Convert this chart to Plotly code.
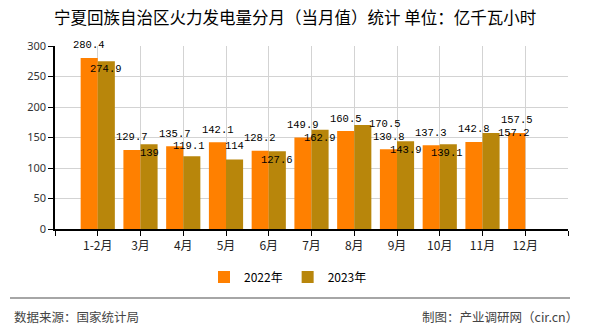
import plotly.graph_objects as go

months = ["1-2月", "3月", "4月", "5月", "6月", "7月", "8月", "9月", "10月", "11月", "12月"]
v2022 = [280.4, 129.7, 135.7, 142.1, 128.2, 149.9, 160.5, 130.8, 137.3, 142.8, 157.5]
v2023 = [274.9, 139, 119.1, 114, 127.6, 162.9, 170.5, 143.9, 139.1, 157.2]
y_ticks = [0, 50, 100, 150, 200, 250, 300]

# label offsets (pixels) for 2023 labels, as drawn in the reference
lab23_dx = [0, 0, -3, 0, 0, 0, 22, 0, -1, 23]
lab23_dy = [-8, -9, 10, 13, -9, -8, 1, -9, -9, 0]

C22 = "#FF8000"
C23 = "#B8860B"

L, T, W, H = 55, 46, 513, 183  # plot area in px


def px_x(x):
    return (x - L) / W


def px_y(y):
    return 1 - (y - T) / H


xs22 = list(range(len(v2022)))
xs23 = list(range(len(v2023)))

fig = go.Figure()
fig.add_trace(go.Bar(x=xs22, y=v2022, name="2022年", marker_color=C22,
                     marker_line_width=0))
fig.add_trace(go.Bar(x=xs23, y=v2023, name="2023年", marker_color=C23,
                     marker_line_width=0))

lab_font = dict(family="Liberation Mono, DejaVu Sans Mono, monospace", size=10.5, color="#000")
BW = 8.5  # half-group offset in px
for i, v in enumerate(v2022):
    fig.add_annotation(x=i, y=v, text=f"{v:g}", showarrow=False, xref="x", yref="y",
                       xshift=-BW, yshift=12.5, font=lab_font, xanchor="center", yanchor="middle")
for i, v in enumerate(v2023):
    fig.add_annotation(x=i, y=v, text=f"{v:g}", showarrow=False, xref="x", yref="y",
                       xshift=BW + lab23_dx[i], yshift=lab23_dy[i], font=lab_font,
                       xanchor="center", yanchor="middle")

# title
fig.add_annotation(x=px_x(295), y=px_y(17), xref="paper", yref="paper", showarrow=False,
                   text="宁夏回族自治区火力发电量分月（当月值）统计 单位：亿千瓦小时",
                   font=dict(family="Noto Sans CJK SC", size=16.5, color="#000"),
                   xanchor="center", yanchor="middle")

# footer line & texts
fig.add_shape(type="line", xref="paper", yref="paper",
              x0=px_x(10), x1=px_x(570), y0=px_y(298), y1=px_y(298),
              line=dict(color="#888", width=1.5))
foot_font = dict(family="Noto Sans CJK SC", size=12.5, color="#444")
fig.add_annotation(x=px_x(12), y=px_y(316), xref="paper", yref="paper",
                   showarrow=False, text="数据来源：国家统计局", font=foot_font,
                   xanchor="left", yanchor="middle")
fig.add_annotation(x=px_x(580), y=px_y(316), xref="paper", yref="paper",
                   showarrow=False, text="制图：产业调研网（cir.cn）", font=foot_font,
                   xanchor="right", yanchor="middle")

fig.update_layout(
    width=590, height=330,
    margin=dict(l=L, r=590 - L - W, t=T, b=330 - T - H),
    paper_bgcolor="white", plot_bgcolor="white",
    barmode="group", bargap=0.2, bargroupgap=0,
    showlegend=True,
    legend=dict(orientation="h", x=px_x(288), xanchor="center",
                y=px_y(277), yanchor="middle",
                font=dict(family="Noto Sans CJK SC", size=12, color="#000"),
                itemwidth=30, traceorder="normal", bgcolor="rgba(0,0,0,0)"),
    xaxis=dict(range=[-1, 11], tickmode="array", tickvals=list(range(-1, 12)),
               ticktext=[""] + months + [""],
               showgrid=True, gridcolor="#d3d3d3", gridwidth=1,
               showline=True, linecolor="#000", linewidth=1.5,
               ticks="outside", ticklen=5, tickcolor="#000",
               tickfont=dict(family="Noto Sans CJK SC", size=12, color="#222"),
               zeroline=False, fixedrange=True),
    yaxis=dict(range=[0, 300], tickvals=y_ticks,
               showgrid=True, gridcolor="#d3d3d3", gridwidth=1,
               showline=True, linecolor="#000", linewidth=1.5,
               ticks="outside", ticklen=5, tickcolor="#000",
               tickfont=dict(family="Noto Sans, DejaVu Sans", size=11, color="#333"),
               zeroline=False, fixedrange=True),
)

fig.write_html("out.html")
